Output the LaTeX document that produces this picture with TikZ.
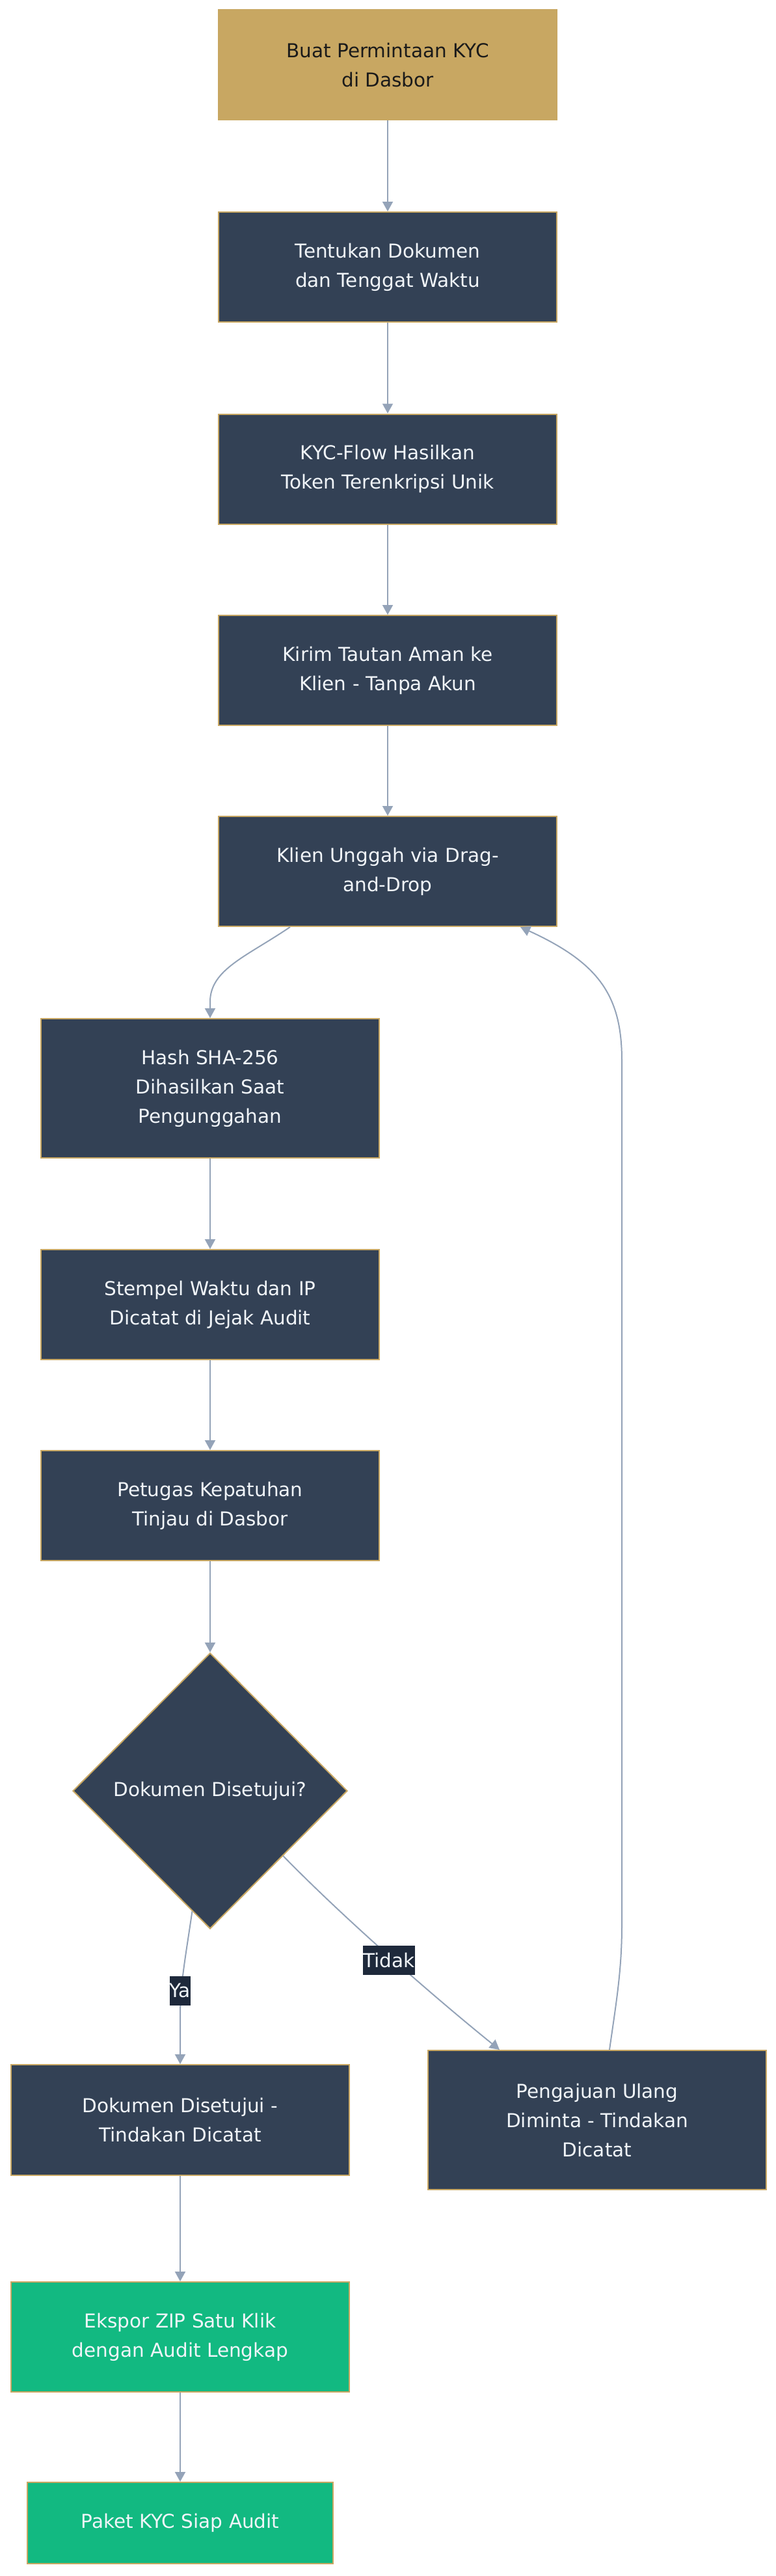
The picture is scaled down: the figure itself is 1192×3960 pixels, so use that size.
\documentclass[tikz,border=0pt]{standalone}
\usepackage{fontspec}
\setmainfont{DejaVu Sans}
\usetikzlibrary{shapes.geometric,arrows.meta,calc}
\definecolor{gold}{HTML}{C8A762}
\definecolor{slatebox}{HTML}{334155}
\definecolor{greenbox}{HTML}{12B981}
\definecolor{edgecol}{HTML}{94A3B8}
\definecolor{lblbg}{HTML}{1E293B}
\definecolor{txtlight}{HTML}{F1F5F9}
\definecolor{txtdark}{HTML}{1A1A1A}
\tikzset{
  base/.style={draw=gold, line width=2pt, align=center, inner sep=0pt,
    font=\fontsize{29.5}{45}\selectfont, minimum width=520pt},
  stepbox/.style={base, fill=slatebox, text=txtlight, minimum height=169pt},
  startbox/.style={base, fill=gold, text=txtdark, minimum height=169pt},
  endbox/.style={base, fill=greenbox, text=txtlight, minimum height=169pt},
  decision/.style={base, shape=diamond, aspect=1, fill=slatebox, text=txtlight,
    minimum width=422pt, minimum height=424pt},
  arr/.style={draw=edgecol, line width=2pt, -{Triangle[length=15pt,width=16pt]}},
  lbl/.style={fill=lblbg, text=txtlight, inner xsep=0pt, inner ysep=0pt,
    minimum height=45pt, font=\fontsize{29.5}{45}\selectfont}
}
\begin{document}
\begin{tikzpicture}[x=1pt,y=-1pt]
\useasboundingbox (0,0) rectangle (1192,3960);
\node[startbox] (n1) at (596,99.5) {Buat Permintaan KYC\\di Dasbor};
\node[stepbox] (n2) at (596,410.5) {Tentukan Dokumen\\dan Tenggat Waktu};
\node[stepbox] (n3) at (596,721) {KYC-Flow Hasilkan\\Token Terenkripsi Unik};
\node[stepbox] (n4) at (596,1030.5) {Kirim Tautan Aman ke\\Klien - Tanpa Akun};
\node[stepbox] (n5) at (596,1339.5) {Klien Unggah via Drag-\\and-Drop};
\node[stepbox, minimum height=214pt] (n6) at (323,1673) {Hash SHA-256\\Dihasilkan Saat\\Pengunggahan};
\node[stepbox] (n7) at (323,2005.5) {Stempel Waktu dan IP\\Dicatat di Jejak Audit};
\node[stepbox] (n8) at (323,2314.5) {Petugas Kepatuhan\\Tinjau di Dasbor};
\node[decision] (d) at (323,2753) {Dokumen Disetujui?};
\node[stepbox, minimum height=170pt] (n10) at (277,3259) {Dokumen Disetujui -\\Tindakan Dicatat};
\node[stepbox, minimum height=214pt] (n11) at (918,3259) {Pengajuan Ulang\\Diminta - Tindakan\\Dicatat};
\node[endbox] (n12) at (277,3592.5) {Ekspor ZIP Satu Klik\\dengan Audit Lengkap};
\node[endbox, minimum width=470pt, minimum height=125pt] (n13) at (277,3878.5) {Paket KYC Siap Audit};

\draw[arr] (n1.south) -- (n2.north);
\draw[arr] (n2.south) -- (n3.north);
\draw[arr] (n3.south) -- (n4.north);
\draw[arr] (n4.south) -- (n5.north);
\draw[arr] ([xshift=-150pt]n5.south) .. controls (380,1470) and (323,1490) .. (323,1540) -- (n6.north);
\draw[arr] (n6.south) -- (n7.north);
\draw[arr] (n7.south) -- (n8.north);
\draw[arr] (n8.south) -- (d.north);
\draw[arr] ($(d.south)!0.13!(d.west)$) .. controls (285,3010) and (277,3050) .. (277,3100) -- (n10.north);
\draw[arr] ($(d.east)!0.47!(d.south)$) .. controls (540,2960) and (680,3080) .. ([xshift=-150pt]n11.north);
\draw[arr] ([xshift=19pt]n11.north) .. controls (947,3080) and (956,3030) .. (956,2960) -- (956,1630) .. controls (956,1530) and (920,1480) .. ([xshift=204pt]n5.south);
\draw[arr] (n10.south) -- (n12.north);
\draw[arr] (n12.south) -- (n13.north);

\node[lbl] (lya) at (277,3060) {Ya};
\node[lbl] (ltidak) at (598,3013) {Tidak};
\end{tikzpicture}
\end{document}
